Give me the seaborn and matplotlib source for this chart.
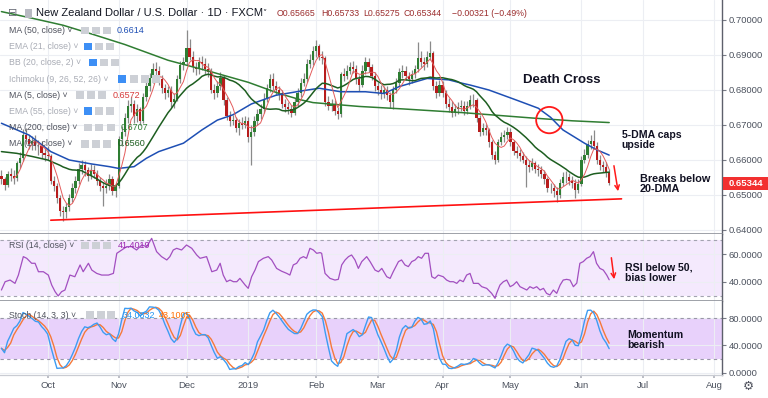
import numpy as np
import pandas as pd
import matplotlib
matplotlib.use("Agg")
import matplotlib.pyplot as plt
import seaborn as sns
from matplotlib.patches import FancyArrowPatch, Rectangle

# ---------------- data ----------------
start_date = "2018-09-10"
end_axis_date = "2019-08-09"
holidays = ["2018-12-25", "2019-01-01"]

first_open = 0.6555
closes = [
    0.6545, 0.6528, 0.6560, 0.6555, 0.6548,
    0.6590, 0.6605, 0.6670, 0.6660, 0.6645,
    0.6655, 0.6640, 0.6640, 0.6620, 0.6615,
    0.6610, 0.6540, 0.6525, 0.6490, 0.6455,
    0.6450, 0.6465, 0.6490, 0.6520, 0.6540,
    0.6575, 0.6585, 0.6570, 0.6555, 0.6570,
    0.6560, 0.6540, 0.6525, 0.6520, 0.6525,
    0.6545, 0.6510, 0.6525, 0.6660, 0.6680,
    0.6720, 0.6755, 0.6760, 0.6725, 0.6745,
    0.6710, 0.6780, 0.6810, 0.6835, 0.6860,
    0.6855, 0.6830, 0.6805, 0.6790, 0.6800,
    0.6765, 0.6775, 0.6830, 0.6870, 0.6880,
    0.6920, 0.6895, 0.6865, 0.6860, 0.6880,
    0.6875, 0.6860, 0.6850, 0.6800, 0.6790,
    0.6810, 0.6835, 0.6770, 0.6725, 0.6710,
    0.6715, 0.6690, 0.6705, 0.6700, 0.6710,
    0.6665, 0.6680, 0.6710, 0.6730, 0.6745,
    0.6775, 0.6805, 0.6830, 0.6810, 0.6800,
    0.6790, 0.6760, 0.6750, 0.6745, 0.6735,
    0.6765, 0.6790, 0.6820, 0.6830, 0.6875,
    0.6885, 0.6910, 0.6925, 0.6895, 0.6890,
    0.6765, 0.6755, 0.6760, 0.6740, 0.6730,
    0.6845, 0.6840, 0.6855, 0.6865, 0.6860,
    0.6830, 0.6815, 0.6855, 0.6880, 0.6865,
    0.6840, 0.6810, 0.6800, 0.6790, 0.6800,
    0.6785, 0.6765, 0.6800, 0.6820, 0.6850,
    0.6855, 0.6840, 0.6830, 0.6845, 0.6860,
    0.6890, 0.6880, 0.6875, 0.6895, 0.6905,
    0.6810, 0.6790, 0.6815, 0.6790, 0.6760,
    0.6750, 0.6735, 0.6745, 0.6750, 0.6755,
    0.6740, 0.6755, 0.6770, 0.6770, 0.6720,
    0.6680, 0.6690, 0.6685, 0.6650, 0.6615,
    0.6600, 0.6650, 0.6665, 0.6670, 0.6680,
    0.6650, 0.6625, 0.6620, 0.6610, 0.6600,
    0.6585, 0.6580, 0.6590, 0.6575, 0.6570,
    0.6560, 0.6545, 0.6520, 0.6520, 0.6510,
    0.6500, 0.6535, 0.6550, 0.6550, 0.6540,
    0.6535, 0.6515, 0.6530, 0.6600, 0.6615,
    0.6645, 0.6655, 0.6640, 0.6600, 0.6585,
    0.6580, 0.65665, 0.65344,
]
highs = [
    0.6572, 0.6552, 0.6568, 0.6578, 0.6570,
    0.6598, 0.6622, 0.6688, 0.6690, 0.6672,
    0.6668, 0.6670, 0.6658, 0.6655, 0.6635,
    0.6640, 0.6618, 0.6555, 0.6535, 0.6500,
    0.6468, 0.6478, 0.6502, 0.6535, 0.6555,
    0.6590, 0.6600, 0.6598, 0.6580, 0.6588,
    0.6585, 0.6572, 0.6552, 0.6538, 0.6545,
    0.6560, 0.6555, 0.6535, 0.6668, 0.6698,
    0.6735, 0.6770, 0.6780, 0.6772, 0.6760,
    0.6752, 0.6792, 0.6822, 0.6848, 0.6878,
    0.6880, 0.6868, 0.6842, 0.6818, 0.6812,
    0.6810, 0.6790, 0.6842, 0.6882, 0.6895,
    0.6970, 0.6945, 0.6910, 0.6880, 0.6895,
    0.6898, 0.6890, 0.6878, 0.6862, 0.6818,
    0.6825, 0.6852, 0.6842, 0.6780, 0.6740,
    0.6728, 0.6722, 0.6718, 0.6722, 0.6725,
    0.6722, 0.6700, 0.6725, 0.6745, 0.6760,
    0.6790, 0.6818, 0.6845, 0.6848, 0.6825,
    0.6812, 0.6800, 0.6775, 0.6765, 0.6758,
    0.6778, 0.6805, 0.6835, 0.6848, 0.6888,
    0.6902, 0.6925, 0.6943, 0.6932, 0.6910,
    0.6898, 0.6782, 0.6775, 0.6772, 0.6752,
    0.6852, 0.6862, 0.6872, 0.6880, 0.6882,
    0.6872, 0.6842, 0.6870, 0.6895, 0.6890,
    0.6875, 0.6850, 0.6822, 0.6815, 0.6812,
    0.6810, 0.6795, 0.6812, 0.6835, 0.6862,
    0.6870, 0.6868, 0.6852, 0.6858, 0.6872,
    0.6938, 0.6910, 0.6895, 0.6910, 0.6940,
    0.6912, 0.6825, 0.6828, 0.6825, 0.6800,
    0.6778, 0.6768, 0.6760, 0.6765, 0.6772,
    0.6768, 0.6768, 0.6785, 0.6788, 0.6778,
    0.6728, 0.6705, 0.6702, 0.6692, 0.6658,
    0.6625, 0.6660, 0.6680, 0.6685, 0.6695,
    0.6690, 0.6658, 0.6640, 0.6632, 0.6622,
    0.6612, 0.6600, 0.6605, 0.6598, 0.6588,
    0.6582, 0.6570, 0.6552, 0.6535, 0.6532,
    0.6522, 0.6545, 0.6565, 0.6568, 0.6562,
    0.6555, 0.6545, 0.6545, 0.6612, 0.6630,
    0.6658, 0.6670, 0.6686, 0.6650, 0.6615,
    0.6598, 0.6595, 0.65733,
]
lows = [
    0.6530, 0.6515, 0.6522, 0.6540, 0.6532,
    0.6540, 0.6578, 0.6598, 0.6645, 0.6630,
    0.6628, 0.6628, 0.6615, 0.6605, 0.6598,
    0.6600, 0.6532, 0.6510, 0.6478, 0.6440,
    0.6425, 0.6433, 0.6455, 0.6480, 0.6505,
    0.6532, 0.6560, 0.6555, 0.6540, 0.6545,
    0.6548, 0.6528, 0.6510, 0.6468, 0.6505,
    0.6515, 0.6500, 0.6495, 0.6520, 0.6640,
    0.6668, 0.6705, 0.6738, 0.6705, 0.6708,
    0.6700, 0.6705, 0.6768, 0.6798, 0.6820,
    0.6838, 0.6815, 0.6790, 0.6775, 0.6780,
    0.6752, 0.6748, 0.6768, 0.6820, 0.6858,
    0.6872, 0.6885, 0.6852, 0.6842, 0.6845,
    0.6858, 0.6845, 0.6838, 0.6790, 0.6775,
    0.6780, 0.6800, 0.6758, 0.6715, 0.6698,
    0.6700, 0.6680, 0.6672, 0.6688, 0.6690,
    0.6652, 0.6585, 0.6668, 0.6700, 0.6718,
    0.6735, 0.6765, 0.6795, 0.6800, 0.6785,
    0.6772, 0.6748, 0.6738, 0.6732, 0.6722,
    0.6728, 0.6755, 0.6780, 0.6810, 0.6822,
    0.6862, 0.6872, 0.6895, 0.6885, 0.6875,
    0.6755, 0.6742, 0.6740, 0.6728, 0.6718,
    0.6722, 0.6825, 0.6830, 0.6845, 0.6848,
    0.6818, 0.6798, 0.6808, 0.6845, 0.6852,
    0.6828, 0.6798, 0.6785, 0.6775, 0.6778,
    0.6770, 0.6748, 0.6745, 0.6790, 0.6812,
    0.6835, 0.6828, 0.6815, 0.6820, 0.6835,
    0.6852, 0.6865, 0.6858, 0.6865, 0.6885,
    0.6800, 0.6778, 0.6782, 0.6780, 0.6748,
    0.6738, 0.6722, 0.6725, 0.6732, 0.6740,
    0.6728, 0.6732, 0.6745, 0.6752, 0.6708,
    0.6668, 0.6670, 0.6672, 0.6638, 0.6602,
    0.6588, 0.6595, 0.6642, 0.6652, 0.6660,
    0.6640, 0.6615, 0.6605, 0.6598, 0.6590,
    0.6522, 0.6565, 0.6570, 0.6562, 0.6555,
    0.6548, 0.6532, 0.6508, 0.6505, 0.6495,
    0.6481, 0.6492, 0.6525, 0.6535, 0.6528,
    0.6520, 0.6492, 0.6505, 0.6525, 0.6590,
    0.6605, 0.6632, 0.6630, 0.6588, 0.6572,
    0.6565, 0.6552, 0.65275,
]

# moving averages (bar index, value)
ma50_idx = [0, 9, 16, 22, 29, 35, 38, 43, 47, 51, 59, 65, 70, 75, 81, 89, 97, 103,
            110, 118, 124, 129, 138, 145, 149, 152, 158, 167, 174, 178, 182, 189, 193, 197]
ma50_val = [0.6705, 0.6671, 0.6624, 0.6600, 0.6589, 0.6581, 0.6576, 0.6581, 0.6605, 0.6624,
            0.6648, 0.6686, 0.6714, 0.6729, 0.6760, 0.6785, 0.6797, 0.6805, 0.6795, 0.6795,
            0.6790, 0.6810, 0.6833, 0.6829, 0.6820, 0.6814, 0.6800, 0.6771, 0.6748, 0.6722,
            0.6686, 0.6648, 0.6629, 0.6614]
ma200_idx = [0, 10, 20, 30, 40, 54, 68, 80, 90, 97, 101, 116, 130, 150, 172, 185, 197]
ma200_val = [0.7024, 0.7005, 0.6985, 0.6958, 0.6930, 0.6885, 0.6852, 0.6822, 0.6790, 0.6772,
             0.6764, 0.6753, 0.6746, 0.6735, 0.6720, 0.6712, 0.6707]
ma20_head_idx = [0, 5, 10, 15]
ma20_head_val = [0.6624, 0.6619, 0.6610, 0.6600]

# RSI (14) (bar index, value)
rsi_idx = [0, 1.2, 2.8, 4.4, 5.5, 7.1, 8.2, 9.8, 10.9, 12.0, 13.6, 15.2, 16.3, 17.4, 18.4, 19.5,
           20.6, 22.2, 23.8, 25.5, 26.5, 28.2, 29.3, 30.9, 32.5, 34.7, 36.3, 37.4, 39.0, 40.6,
           42.2, 43.8, 45.5, 47.1, 48.7, 50.3, 51.9, 53.6, 54.6, 55.7, 56.8, 58.4, 60.0, 61.7,
           63.3, 64.4, 66.5, 68.2, 69.8, 70.9, 71.9, 73.0, 74.1, 75.2, 76.3, 77.3, 79.0, 80.0,
           81.1, 82.2, 83.3, 84.9, 86.5, 87.6, 89.2, 90.8, 92.5, 93.5, 94.6, 95.7, 96.8, 97.9,
           98.9, 100.0, 101.1, 102.2, 103.3, 103.8, 104.9, 106.5, 108.1, 109.2, 110.3, 111.4,
           112.5, 113.5, 114.6, 115.7, 116.8, 118.4, 119.5, 121.1, 122.2, 123.3, 124.9, 126.0,
           127.0, 128.7, 129.7, 130.8, 131.9, 133.0, 134.1, 135.1, 136.2, 137.3, 138.4, 139.5,
           140.5, 141.6, 143.2, 144.3, 145.4, 146.5, 147.6, 148.6, 149.7, 150.8, 151.9, 153.0,
           154.6, 155.7, 157.3, 158.9, 160.0, 160.5, 161.6, 162.7, 163.8, 164.9, 165.9, 167.0,
           168.1, 169.2, 170.3, 171.3, 172.4, 173.5, 174.6, 175.7, 176.7, 177.8, 178.9, 180.0,
           181.1, 182.1, 183.2, 184.3, 185.4, 186.5, 187.5, 188.6, 189.7, 190.8, 191.9, 192.9,
           194.0, 195.1, 196.2, 197.0]
rsi_val = [34.0, 40.0, 41.2, 38.8, 44.8, 58.1, 56.9, 53.3, 53.3, 47.2, 47.2, 44.8, 37.6, 32.8,
           29.7, 32.8, 34.0, 44.8, 43.6, 52.1, 47.2, 53.3, 48.4, 46.0, 44.8, 44.8, 46.0, 60.5,
           62.9, 65.3, 65.3, 62.9, 66.5, 65.3, 71.3, 61.7, 58.1, 55.7, 58.1, 62.9, 64.1, 62.9,
           66.5, 64.1, 59.3, 56.9, 58.1, 47.2, 48.4, 53.3, 44.8, 40.0, 41.2, 40.0, 40.0, 42.4,
           37.6, 35.2, 43.6, 48.4, 54.5, 56.9, 58.1, 55.7, 49.6, 47.6, 46.0, 44.8, 52.1, 53.3,
           56.9, 58.1, 56.9, 64.1, 62.9, 60.5, 61.0, 60.5, 46.0, 42.4, 41.2, 41.7, 52.1, 55.7,
           58.1, 59.3, 55.7, 49.6, 54.5, 58.1, 54.5, 48.4, 47.2, 49.6, 43.6, 42.4, 47.2, 54.5,
           55.7, 52.1, 50.9, 54.5, 55.7, 58.1, 56.9, 60.5, 60.5, 43.6, 42.4, 44.8, 43.6, 41.2,
           40.0, 40.0, 38.8, 41.2, 40.0, 44.8, 46.0, 38.8, 38.8, 36.4, 35.2, 31.6, 28.0, 31.6,
           37.6, 40.0, 41.2, 36.4, 37.6, 40.0, 36.4, 35.2, 34.0, 36.4, 35.2, 36.4, 34.0, 35.2,
           31.6, 30.4, 34.0, 31.6, 37.6, 41.2, 41.7, 41.2, 36.4, 39.0, 53.3, 54.5, 56.9, 58.1,
           61.7, 53.3, 49.6, 48.4, 44.8, 41.4]

trend_idx = [16, 201]
trend_price = [0.6428, 0.6489]
cross_idx, cross_price = 177.6, 0.6714

price_ticks = [0.64, 0.65, 0.66, 0.67, 0.68, 0.69, 0.70]
rsi_ticks = [40, 60]
stoch_ticks = [0, 40, 80]
month_labels = ["Oct", "Nov", "Dec", "2019", "Feb", "Mar", "Apr", "May", "Jun", "Jul", "Aug"]
month_starts = ["2018-10-01", "2018-11-01", "2018-12-01", "2019-01-01", "2019-02-01", "2019-03-01",
                "2019-04-01", "2019-05-01", "2019-06-01", "2019-07-01", "2019-08-01"]

header = "New Zealand Dollar / U.S. Dollar · 1D · FXCM"
ohlc_text = [("O0.65665", 277), ("H0.65733", 321), ("L0.65275", 363),
             ("C0.65344", 403), ("\u22120.00321 (\u22120.49%)", 452)]
last_price_label = "0.65344"
rsi_value_label = "41.4019"
stoch_k_label = "34.0832"
stoch_d_label = "43.1005"

# ---------------- derived series ----------------
n = len(closes)
idx = np.arange(n)
c = np.array(closes)
o = np.r_[first_open, c[:-1]]
hi = np.array(highs)
lo = np.array(lows)
cs = pd.Series(c)

ma5 = cs.rolling(5).mean()
ma20 = cs.rolling(20).mean()
ma20_x = list(ma20_head_idx) + list(idx[19:])
ma20_y = list(ma20_head_val) + list(ma20.values[19:])

hh = pd.Series(hi).rolling(14, min_periods=1).max()
ll = pd.Series(lo).rolling(14, min_periods=1).min()
raw = 100 * (cs - ll) / (hh - ll)
stk = raw.rolling(3, min_periods=1).mean()
std = stk.rolling(3, min_periods=1).mean()

days = pd.bdate_range(start_date, end_axis_date)
days = days[~days.isin(pd.to_datetime(holidays))]
month_pos = [int(np.argmax(days >= pd.Timestamp(m))) for m in month_starts]

# ---------------- figure ----------------
sns.set_theme(style="white")
plt.rcParams["font.family"] = ["Liberation Sans", "DejaVu Sans"]

W, H = 768, 398
fig = plt.figure(figsize=(W / 100, H / 100), dpi=100)
fig.patch.set_facecolor("white")


def fx(x):
    return x / W


def fy(y):
    return 1 - y / H


AXR = 722
ax = fig.add_axes([0, fy(234), fx(AXR), 234 / H])
ax_rsi = fig.add_axes([0, fy(301), fx(AXR), 67 / H])
ax_st = fig.add_axes([0, fy(375), fx(AXR), 74 / H])

GREEN, RED, WICK = "#2e7d32", "#b71c1c", "#8a8a8a"
up = c >= o
ax.vlines(idx, lo, hi, color=WICK, lw=0.9, zorder=2)
ax.bar(idx, np.maximum(np.abs(c - o), 0.00014), bottom=np.minimum(o, c), width=0.74,
       color=np.where(up, GREEN, RED), linewidth=0, zorder=3)

kw = dict(estimator=None, errorbar=None, sort=False, legend=False)
sns.lineplot(x=ma200_idx, y=ma200_val, ax=ax, color="#2f7d32", lw=1.1, zorder=4, **kw)
sns.lineplot(x=ma50_idx, y=ma50_val, ax=ax, color="#1e4fb4", lw=1.1, zorder=4, **kw)
sns.lineplot(x=ma20_x, y=ma20_y, ax=ax, color="#1d5e20", lw=1.1, zorder=4, **kw)
sns.lineplot(x=idx[4:], y=ma5.values[4:], ax=ax, color="#e35b5b", lw=0.7, zorder=5, **kw)
sns.lineplot(x=trend_idx, y=trend_price, ax=ax, color="#ff1010", lw=1.2, zorder=5, **kw)
ax.scatter([cross_idx], [cross_price], s=360, facecolors="none", edgecolors="#ff1a1a",
           linewidths=1.3, zorder=6)

# RSI panel
ax_rsi.axhspan(30, 70, color="#f4e9fd", zorder=0.2, lw=0)
for lvl in (70, 30):
    ax_rsi.axhline(lvl, color="#a3a3b0", lw=0.8, ls=(0, (3, 3)), zorder=1)
sns.lineplot(x=rsi_idx, y=rsi_val, ax=ax_rsi, color="#a24fc0", lw=0.9, zorder=3, **kw)

# Stoch panel
ax_st.axhspan(20, 80, color="#e8d1fb", zorder=0.2, lw=0)
for lvl in (80, 20):
    ax_st.axhline(lvl, color="#9a96a8", lw=0.8, ls=(0, (3, 3)), zorder=1)
sns.lineplot(x=idx, y=std.values, ax=ax_st, color="#f5793a", lw=1.0, zorder=3, **kw)
sns.lineplot(x=idx, y=stk.values, ax=ax_st, color="#3d9cf2", lw=1.0, zorder=4, **kw)

ax.set_ylim(0.638857, 0.705714)
ax_rsi.set_ylim(26.07, 74.44)
ax_st.set_ylim(-3.36, 104.9)
ax.set_yticks(price_ticks)
ax.set_yticklabels([f"{v:.5f}" for v in price_ticks])
ax_rsi.set_yticks(rsi_ticks)
ax_rsi.set_yticklabels([f"{v:.4f}" for v in rsi_ticks])
ax_st.set_yticks(stoch_ticks)
ax_st.set_yticklabels([f"{v:.4f}" for v in stoch_ticks])

for a in (ax, ax_rsi, ax_st):
    a.set_xlim(-0.46, 233.57)
    a.set_xticks(month_pos)
    a.set_facecolor("white")
    a.grid(True, color="#eceef3", lw=0.8, zorder=0.5)
    a.set_axisbelow(True)
    a.yaxis.tick_right()
    a.tick_params(axis="y", right=True, left=False, length=3, width=0.8, color="#787b86",
                  labelsize=6.8, labelcolor="#4c525e", pad=2)
    a.tick_params(axis="x", bottom=False, labelbottom=False)
    a.spines["top"].set_visible(False)
    a.spines["left"].set_visible(False)
    a.spines["right"].set_color("#5d606b")
    a.spines["right"].set_linewidth(1.0)
    a.spines["bottom"].set_color("#8e919a")
    a.spines["bottom"].set_linewidth(1.2)
    a.set_xlabel("")
    a.set_ylabel("")

ax_st.spines["bottom"].set_color("#c9ccd3")
ax_st.spines["bottom"].set_linewidth(0.9)
ax_st.set_xticklabels(month_labels)
ax_st.tick_params(axis="x", bottom=True, labelbottom=True, length=2.5, color="#b2b5be",
                  labelsize=6.8, labelcolor="#4c525e", pad=2)

# ---------------- text overlays ----------------
TXT = "#131722"
fig.text(fx(8), fy(13.5), "\u229f", fontsize=8, color="#6a6d78", va="center",
         family="DejaVu Sans")
fig.add_artist(Rectangle((fx(25), fy(18)), 7 / W, 9 / H, transform=fig.transFigure,
                         facecolor="#b8bac2", edgecolor="none"))
fig.text(fx(36), fy(13.5), header, fontsize=8, color=TXT, va="center")
fig.text(fx(262), fy(13.5), "\u02c5", fontsize=6, color=TXT, va="center", family="DejaVu Sans")
for s, x in ohlc_text:
    fig.text(fx(x), fy(14), s, fontsize=6.3, color="#9b2d2d", va="center")

rows = [
    ("MA (50, close)", 30.3, True, [81, 92, 103], "0.6614", 117, "#1e4fb4"),
    ("EMA (21, close)", 46.3, False, [84, 95, 106], None, 0, None),
    ("BB (20, close, 2)", 62.3, False, [89, 100, 111], None, 0, None),
    ("Ichimoku (9, 26, 52, 26)", 79, False, [118, 130, 141, 152], None, 0, None),
    ("MA (5, close)", 95, True, [76, 87, 98], "0.6572", 113, "#d63a3a"),
    ("EMA (55, close)", 111, False, [84, 95, 106], None, 0, None),
    ("MA (200, close)", 127.3, True, [84, 95, 107], "0.6707", 121, "#2f7d32"),
    ("MA (20, close)", 144, True, [81, 92, 103], "0.6560", 118, "#1d5e20"),
]
for label, y, vis, sq, val, vx, vcol in rows:
    fig.text(fx(9), fy(y), label + " \u02c5", fontsize=6.3,
             color="#50535e" if vis else "#a9acb5", va="center")
    for j, sx in enumerate(sq):
        col = "#3d8ff5" if (j == 0 and not vis) else "#cdd0d6"
        fig.add_artist(Rectangle((fx(sx), fy(y + 3.8)), 7.5 / W, 7.5 / H,
                                 transform=fig.transFigure, facecolor=col, edgecolor="none"))
    if val:
        fig.text(fx(vx), fy(y), val, fontsize=6.5, color=vcol, va="center")

fig.text(fx(9), fy(245.3), "RSI (14, close) \u02c5", fontsize=6.3, color="#50535e", va="center")
for sx in (81, 92, 103):
    fig.add_artist(Rectangle((fx(sx), fy(249)), 7.5 / W, 7.5 / H, transform=fig.transFigure,
                             facecolor="#cdd0d6", edgecolor="none"))
fig.text(fx(118), fy(245.3), rsi_value_label, fontsize=6.5, color="#9c27b0", va="center")

fig.text(fx(9), fy(315), "Stoch (14, 3, 3) \u02c5", fontsize=6.3, color="#50535e", va="center")
for sx in (86, 97, 107):
    fig.add_artist(Rectangle((fx(sx), fy(318.8)), 7.5 / W, 7.5 / H, transform=fig.transFigure,
                             facecolor="#cdd0d6", edgecolor="none"))
fig.text(fx(123), fy(315), stoch_k_label, fontsize=6.5, color="#2196f3", va="center")
fig.text(fx(159), fy(315), stoch_d_label, fontsize=6.5, color="#ff6d00", va="center")

# last price tag
fig.add_artist(Rectangle((fx(723), fy(189.5)), 45 / W, 13 / H, transform=fig.transFigure,
                         facecolor="#f23030", edgecolor="none"))
fig.text(fx(745.5), fy(183), last_price_label, fontsize=6.8, color="white",
         weight="bold", ha="center", va="center")

# annotations
ANN = "#111122"
fig.text(fx(561.7), fy(80), "Death Cross", fontsize=9.5, weight="bold", color=ANN,
         ha="center", va="center")
fig.text(fx(621.7), fy(139.5), "5-DMA caps\nupside", fontsize=7.6, weight="bold", color=ANN,
         ha="left", va="center", linespacing=1.0)
fig.text(fx(640), fy(184), "Breaks below\n20-DMA", fontsize=7.8, weight="bold", color=ANN,
         ha="left", va="center", linespacing=1.0)
fig.text(fx(625), fy(273), "RSI below 50,\nbias lower", fontsize=7.6, weight="bold", color=ANN,
         ha="left", va="center", linespacing=1.0)
fig.text(fx(627.7), fy(340.5), "Momentum\nbearish", fontsize=7.6, weight="bold", color=ANN,
         ha="left", va="center", linespacing=1.0)

for (x0, y0), (x1, y1) in [((613.5, 163), (618.5, 194)), ((611, 255), (614.5, 282))]:
    fig.add_artist(FancyArrowPatch((fx(x0), fy(y0)), (fx(x1), fy(y1)),
                                   transform=fig.transFigure, arrowstyle="->",
                                   mutation_scale=8, color="#ff1a1a", lw=1.1))

fig.text(fx(748), fy(386), "\u2699", fontsize=9, color="#50535e", ha="center", va="center",
         family="DejaVu Sans")

fig.savefig("out.png", dpi=100, facecolor="white")
